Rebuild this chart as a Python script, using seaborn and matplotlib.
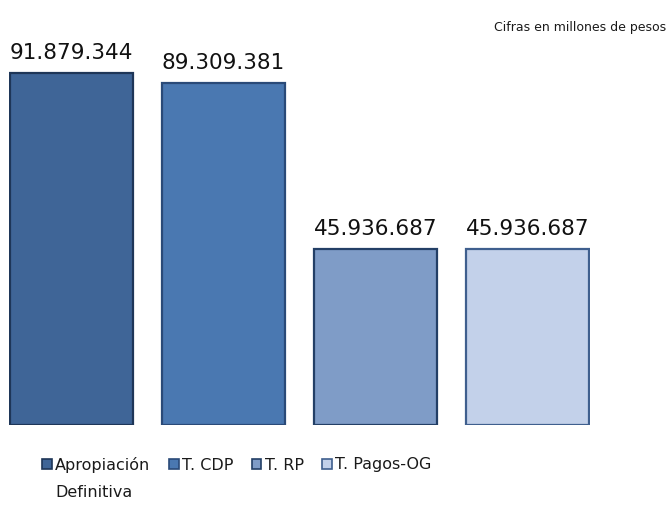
import matplotlib

matplotlib.use("Agg")

import matplotlib.pyplot as plt
import matplotlib.patches as mpatches
from matplotlib.legend_handler import HandlerPatch
import pandas as pd
import seaborn as sns

categorias = ["Apropiación\nDefinitiva", "T. CDP", "T. RP", "T. Pagos-OG"]
valores = [91879344, 89309381, 45936687, 45936687]
etiquetas = ["91.879.344", "89.309.381", "45.936.687", "45.936.687"]

colores = ["#3F6597", "#4A78B1", "#7F9CC7", "#C3D1EA"]
bordes = ["#1E3658", "#2A4A78", "#233F66", "#3F5F8E"]

sns.set_theme(style="white")
plt.rcParams["font.family"] = ["DejaVu Sans"]

df = pd.DataFrame({"cat": categorias, "val": valores})

fig = plt.figure(figsize=(6.69, 5.05), dpi=100)
# axes spans bar area: x 9..590 px, y bottom 425 px
ax = fig.add_axes([9 / 669, (505 - 425) / 505, (590 - 9) / 669, 383 / 505])

w = 0.807
sns.barplot(data=df, x="cat", y="val", hue="cat", palette=colores, width=w,
            dodge=False, legend=False, ax=ax, linewidth=1.6, saturation=1)
for patch, ec in zip(ax.patches, bordes):
    patch.set_edgecolor(ec)

for i, (v, t) in enumerate(zip(valores, etiquetas)):
    ax.annotate(t, (i, v), xytext=(0, 7), textcoords="offset points",
                ha="center", va="bottom", fontsize=15.5, color="#111111")

ax.set_xlim(-w / 2 - 0.004, 3 + w / 2 + 0.004)
ax.set_ylim(0, 100e6)
ax.axis("off")

fig.text(666 / 669, 1 - 27 / 505, "Cifras en millones de pesos", ha="right",
         va="center", fontsize=9, color="#1a1a1a")


def cuadro_arriba(legend, orig_handle, xdescent, ydescent, width, height, fontsize):
    # lift the square so it sits next to the first text line
    return mpatches.Rectangle((-xdescent, -ydescent + 0.95 * fontsize), width, height)


# trailing newline keeps single-line labels aligned with the first line
etiq_leyenda = [c if "\n" in c else c + "\n" for c in categorias]
handles = [mpatches.Patch(facecolor=c, edgecolor=e, linewidth=1.2, label=l)
           for c, e, l in zip(colores, bordes, etiq_leyenda)]
leg = fig.legend(handles=handles, ncol=4, loc="upper left",
                 bbox_to_anchor=(42 / 669, 1 - 457 / 505), frameon=False,
                 fontsize=11.5, handlelength=0.62, handleheight=0.62,
                 handletextpad=0.2, columnspacing=1.15, borderaxespad=0,
                 borderpad=0, labelcolor="#1a1a1a",
                 handler_map={mpatches.Patch: HandlerPatch(patch_func=cuadro_arriba)})
for t in leg.get_texts():
    t.set_linespacing(2.0)

fig.savefig("out.png", dpi=100)
